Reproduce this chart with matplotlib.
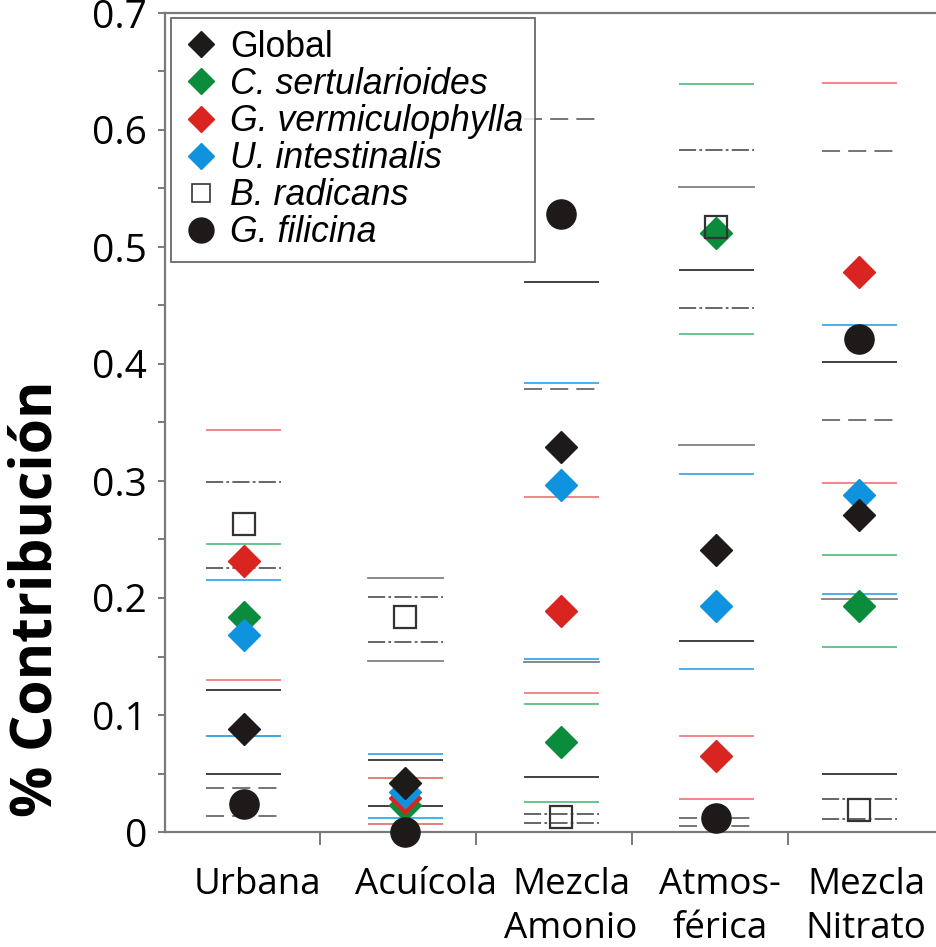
import numpy as np
import matplotlib

matplotlib.use("Agg")
import matplotlib.pyplot as plt
from matplotlib.lines import Line2D
from matplotlib.ticker import MultipleLocator, FixedLocator

# --- data ---
sources = ["Urbana", "Acuícola", "Mezcla\nAmonio", "Atmos-\nférica", "Mezcla\nNitrato"]
species = ["Global", "C. sertularioides", "G. vermiculophylla",
           "U. intestinalis", "B. radicans", "G. filicina"]

global_mean = [0.088, 0.042, 0.329, 0.241, 0.271]
csert_mean = [0.184, 0.023, 0.077, 0.512, 0.193]
gverm_mean = [0.232, 0.029, 0.189, 0.065, 0.479]
uint_mean = [0.168, 0.034, 0.297, 0.193, 0.288]
brad_mean = [0.263, 0.184, 0.013, 0.517, 0.019]
gfil_mean = [0.024, 0.000, 0.528, 0.012, 0.421]

global_lo = [0.050, 0.0225, 0.047, 0.163, 0.050]
global_hi = [0.121, 0.0615, 0.470, 0.480, 0.402]
csert_lo = [0.082, 0.007, 0.026, 0.426, 0.158]
csert_hi = [0.246, 0.046, 0.109, 0.639, 0.237]
gverm_lo = [0.130, 0.007, 0.119, 0.028, 0.298]
gverm_hi = [0.344, 0.046, 0.286, 0.082, 0.640]
uint_lo = [0.082, 0.012, 0.148, 0.139, 0.203]
uint_hi = [0.215, 0.067, 0.384, 0.306, 0.433]
brad_lo = [0.226, 0.162, 0.008, 0.448, 0.011]
brad_hi = [0.299, 0.201, 0.015, 0.583, 0.028]
gfil_lo = [0.014, np.nan, 0.379, 0.0054, 0.352]
gfil_hi = [0.038, np.nan, 0.609, 0.012, 0.582]

# extra grey solid bounds without a marker
extra_lines = [[], [0.146, 0.217], [0.145], [0.331, 0.551], [0.199]]

ytick_vals = [0, 0.1, 0.2, 0.3, 0.4, 0.5, 0.6, 0.7]
ytick_labels = ["0", "0.1", "0.2", "0.3", "0.4", "0.5", "0.6", "0.7"]

# --- layout (pixel-like x coordinates) ---
xpos = [244, 405.5, 561.5, 716.5, 859.5]
label_x = [257, 426, 571, 720, 866]
bounds_x = [320, 476, 632, 788]
half = 37.5

fig = plt.figure(figsize=(9.37, 9.47), dpi=100)
W, H = 937, 947
ax = fig.add_axes([165 / W, (H - 832) / H, (942 - 165) / W, (832 - 13) / H])
ax.set_xlim(165, 942)
ax.set_ylim(0, 0.7)

# interval lines
line_sets = [
    (global_lo, global_hi, "#333333", "-"),
    (csert_lo, csert_hi, "#5cbf84", "-"),
    (gverm_lo, gverm_hi, "#ef7d7d", "-"),
    (uint_lo, uint_hi, "#3aa9e9", "-"),
    (brad_lo, brad_hi, "#5a5a5a", (0, (9.5, 1.8, 1.5, 1.8))),
    (gfil_lo, gfil_hi, "#6a6a6a", (0, (10, 4.5))),
]
for lo, hi, col, ls in line_sets:
    for x, a, b in zip(xpos, lo, hi):
        for v in (a, b):
            if not np.isnan(v):
                ax.plot([x - half, x + half], [v, v], color=col, lw=1.3, ls=ls,
                        solid_capstyle="butt", zorder=2)
for x, vals in zip(xpos, extra_lines):
    for v in vals:
        ax.plot([x - half, x + half], [v, v], color="#808080", lw=1.3, zorder=1.9)

# markers
green, red, blue, black = "#0a8c3c", "#d9241f", "#0f93de", "#1e1a1a"
ax.plot(xpos, csert_mean, "D", ms=16, color=green, mec=green, zorder=3)
ax.plot(xpos, gverm_mean, "D", ms=16, color=red, mec=red, zorder=3.1)
ax.plot(xpos, uint_mean, "D", ms=16, color=blue, mec=blue, zorder=3.2)
ax.plot(xpos, global_mean, "D", ms=16, color=black, mec=black, zorder=3.3)
ax.plot(xpos, brad_mean, "s", ms=15.5, mfc="none", mec="#333333", mew=1.6, zorder=3.4)
ax.plot(xpos, gfil_mean, "o", ms=21, color=black, mec=black, zorder=3.5, clip_on=False)

# axes styling
for side in ("left", "bottom", "top"):
    ax.spines[side].set_color("#7a7a7a")
    ax.spines[side].set_linewidth(1.6)
ax.spines["right"].set_visible(False)

ax.set_yticks(ytick_vals)
ax.set_yticklabels(ytick_labels, fontfamily="Open Sans", fontsize=28)
ax.yaxis.set_minor_locator(MultipleLocator(0.05))
ax.tick_params(axis="y", which="both", direction="out", length=5, width=1.4,
               color="#7a7a7a", pad=8)

ax.set_xticks(label_x)
ax.set_xticklabels(sources, fontfamily="Open Sans", fontsize=26.5, linespacing=1.3)
ax.xaxis.set_minor_locator(FixedLocator(bounds_x))
ax.tick_params(axis="x", which="major", length=0, pad=25)
ax.tick_params(axis="x", which="minor", direction="out", length=9, width=1.4,
               color="#7a7a7a")

fig.text(37 / W, 1 - 599 / H, "% Contribución", rotation=90, ha="center", va="center",
         fontfamily="Open Sans", fontweight="bold", fontsize=41)

# legend
handles = [
    Line2D([], [], ls="none", marker="D", ms=13, color=black),
    Line2D([], [], ls="none", marker="D", ms=13, color=green),
    Line2D([], [], ls="none", marker="D", ms=13, color=red),
    Line2D([], [], ls="none", marker="D", ms=13, color=blue),
    Line2D([], [], ls="none", marker="s", ms=13, mfc="none", mec="#333333", mew=1.2),
    Line2D([], [], ls="none", marker="o", ms=18, color=black),
]
leg = ax.legend(handles, species, loc="upper left",
                bbox_to_anchor=((171 - 165) / (942 - 165), (832 - 18) / (832 - 13)),
                borderaxespad=0, frameon=True, fancybox=False, handlelength=1.0,
                handletextpad=0.32, labelspacing=0.06, borderpad=0.33,
                prop={"family": "Liberation Sans", "size": 25.7})
leg.get_frame().set_edgecolor("#444444")
leg.get_frame().set_linewidth(1.3)
for i, t in enumerate(leg.get_texts()):
    if i > 0:
        t.set_fontstyle("italic")
leg.set_zorder(5)

fig.savefig("out.png", dpi=100)
